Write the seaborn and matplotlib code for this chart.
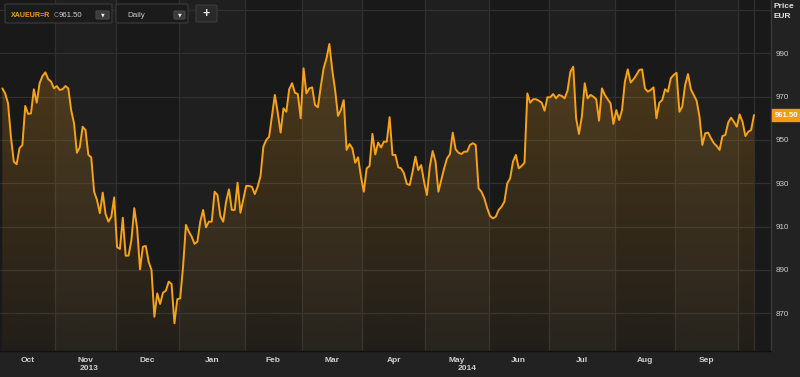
import numpy as np
import pandas as pd
import matplotlib
matplotlib.use("Agg")
import matplotlib.pyplot as plt
import seaborn as sns
from matplotlib.patches import FancyBboxPatch

# ---------------- data ----------------
ric = "XAUEUR=R"
interval = "Daily"
currency = "EUR"
last_price = 961.50
start_date = "2013-10-07"

prices = [
    973.8, 971.5, 966.9, 951.5, 940.0, 938.8, 946.2, 947.7, 965.7, 962.0,
    962.3, 973.4, 967.2, 976.2, 979.5, 981.2, 978.1, 976.9, 973.8, 974.9,
    973.1, 973.4, 974.9, 973.8, 963.8, 957.7, 944.1, 946.6, 956.1, 954.6,
    943.1, 942.0, 926.1, 922.3, 916.2, 925.7, 915.8, 912.3, 914.6, 923.5,
    900.5, 899.7, 914.1, 896.6, 896.6,
    903.8, 918.5, 909.2, 890.3, 900.7, 901.1, 893.8, 890.0, 868.4, 879.2,
    874.3, 879.5, 880.4, 884.6, 883.5, 865.4, 876.5, 876.9, 891.5, 910.8,
    907.7, 905.4, 902.0, 903.1, 912.3, 917.7, 909.7, 912.3, 912.3, 926.1,
    924.6, 914.9, 912.3, 921.5, 927.2, 917.7, 917.7, 930.3, 916.4, 922.6,
    928.8, 928.8, 928.4, 925.0,
    928.4, 933.4, 946.9, 950.0, 951.5, 961.1, 970.8, 962.6, 953.4, 964.6,
    963.0, 973.4, 976.2, 971.8, 971.2, 960.0, 983.1, 971.5, 973.8, 974.3,
    966.1, 965.1, 974.6, 983.1, 987.7, 994.3, 982.3, 973.1, 961.1, 963.8,
    968.4, 945.4, 948.1, 946.2, 939.5, 942.0, 933.1, 926.1, 936.9, 938.0,
    952.8,
    943.3, 948.8, 946.5, 949.2, 949.2, 960.5, 943.1, 943.1, 937.4, 936.9,
    934.6, 929.7, 929.2, 935.4, 942.3, 936.1, 938.4, 930.7, 924.6, 937.7,
    944.9, 940.0, 926.1, 931.5, 936.9, 941.5, 943.4, 953.4, 945.7, 944.1,
    943.5, 944.6, 944.6, 947.7, 948.5, 947.7, 927.7, 926.1, 923.1, 918.5,
    914.9, 913.8, 914.6, 917.7, 919.2,
    921.5, 930.0, 932.3, 940.0, 943.1, 936.9, 938.0, 939.5, 971.5, 967.2,
    968.8, 968.8, 968.1, 967.2, 963.5, 969.7, 969.7, 971.2, 969.2, 970.8,
    970.3, 969.2, 972.7, 981.5, 983.8, 960.0, 952.8, 960.8, 976.2, 969.2,
    970.8, 970.0, 968.8, 958.9, 973.8, 970.8, 968.8, 966.9, 957.4, 963.8,
    959.2, 963.8, 976.9, 982.6, 976.5,
    978.0, 980.0, 982.3, 982.6, 973.8, 972.3, 973.1, 974.3, 960.0, 967.2,
    968.4, 973.4, 972.3, 978.5, 980.0, 981.0, 963.0, 965.4, 975.4, 980.4,
    973.4, 970.8, 968.1, 960.8, 947.7, 953.1, 953.4, 950.8, 948.5, 947.2,
    945.4, 951.8, 952.3, 958.0, 960.3, 958.4, 956.1, 961.8, 958.4, 951.8,
    953.8, 954.6, 961.5,
]

month_labels = ["Oct", "Nov", "Dec", "Jan", "Feb", "Mar", "Apr", "May",
                "Jun", "Jul", "Aug", "Sep"]
year_labels = ["2013", "2014"]
year_label_months = ["Nov", "May"]
y_ticks = [870, 890, 910, 930, 950, 970, 990]
y_grid = [870, 890, 910, 930, 950, 970, 990, 1010]

# ---------------- styling ----------------
W, H = 800, 377
LINE = "#f7a21b"
ORANGE = "#f39c12"
BG = "#222222"
BAND_DARK = "#191919"
BAND_LIGHT = "#1f1f1f"
GRID = "#303030"
TXT = "#cfcfcf"

sns.set_style("dark")
plt.rcParams["font.family"] = ["Liberation Sans", "DejaVu Sans"]

dates = pd.bdate_range(start_date, periods=len(prices))
df = pd.DataFrame({"idx": np.arange(len(prices)), "date": dates, "price": prices})

fig = plt.figure(figsize=(W / 100, H / 100), dpi=100, facecolor=BG)
ax = fig.add_axes([0, 26 / H, 771 / W, 351 / H])

n = len(prices)
px_per = (754 - 2.3) / (n - 1)
xl = -2.3 / px_per
xr = xl + 771 / px_per
ylo, yhi = 852.6, 1014.6

ax.set_facecolor(BAND_DARK)

# month bands and boundaries
df["ym"] = df["date"].dt.to_period("M")
groups = df.groupby("ym")["idx"].agg(["min", "max"])
bounds = []
centers = []
for k, (ym, row) in enumerate(groups.iterrows()):
    a = max(row["min"] - 0.5, xl)
    b = min(row["max"] + 0.5, xr)
    ax.axvspan(a, b, color=BAND_DARK if k % 2 == 0 else BAND_LIGHT, lw=0, zorder=0)
    if row["min"] > 0:
        bounds.append(row["min"] - 0.5)
    centers.append((a + b) / 2)

for v in y_grid:
    ax.axhline(v, color=GRID, lw=0.9, zorder=1)
for b in bounds:
    ax.axvline(b, color=GRID, lw=0.9, zorder=1)
ax.axvline(n - 1, color=GRID, lw=0.9, zorder=1)

# gradient fill under the line
poly = ax.fill_between(df["idx"], df["price"], ylo, facecolor="none", edgecolor="none")
rgb = matplotlib.colors.to_rgb(LINE)
grad = np.zeros((256, 1, 4))
grad[:, 0, 0:3] = rgb
grad[:, 0, 3] = np.linspace(0.24, 0.04, 256)
im = ax.imshow(grad, extent=[xl, xr, ylo, 995], aspect="auto", origin="upper",
               zorder=2, interpolation="bilinear")
im.set_clip_path(poly.get_paths()[0], transform=ax.transData)

sns.lineplot(data=df, x="idx", y="price", color=LINE, lw=1.4, ax=ax, zorder=3)

ax.set_xlim(xl, xr)
ax.set_ylim(ylo, yhi)
ax.set_xlabel("")
ax.set_ylabel("")
ax.grid(False)

# y axis on the right
ax.yaxis.tick_right()
ax.set_yticks(y_ticks)
ax.set_yticklabels([str(v) for v in y_ticks])
ax.tick_params(axis="y", length=0, pad=3, labelsize=5.8, labelcolor=TXT)

# x axis: month labels at centers, boundary ticks
ax.set_xticks(centers[:len(month_labels)])
ax.set_xticklabels(month_labels, fontweight="bold")
ax.tick_params(axis="x", which="major", length=0, pad=4.5, labelsize=6, labelcolor=TXT)
ax.set_xticks(bounds, minor=True)
ax.tick_params(axis="x", which="minor", length=2.5, width=0.8, color="#4a4a4a",
               direction="out")

for lab, mon, off in zip(year_labels, year_label_months, [4, 10]):
    ci = centers[month_labels.index(mon)]
    ax.annotate(lab, xy=(ci, 0), xycoords=("data", "axes fraction"),
                xytext=(off * 0.72, -12.3), textcoords="offset points",
                ha="center", va="center", fontsize=6, fontweight="bold", color=TXT)

for s in ["left", "top"]:
    ax.spines[s].set_visible(False)
ax.spines["right"].set_color("#3a3a3a")
ax.spines["right"].set_linewidth(1.0)
ax.spines["bottom"].set_color("#111111")
ax.spines["bottom"].set_linewidth(1.0)

# last price marker on the axis
ax.annotate(f"{last_price:.2f}", xy=(1, last_price), xycoords=("axes fraction", "data"),
            xytext=(2.6, 0), textcoords="offset points", ha="left", va="center",
            fontsize=5.6, fontweight="bold", color="white",
            bbox=dict(boxstyle="square,pad=0.3", fc=ORANGE, ec=ORANGE), zorder=5,
            annotation_clip=False)

# axis title at the top right
fig.text(774 / W, 1 - 6.5 / H, "Price", fontsize=6, fontweight="bold",
         color="#e0e0e0", ha="left", va="center")
fig.text(774 / W, 1 - 16 / H, currency, fontsize=6, fontweight="bold",
         color="#e0e0e0", ha="left", va="center")


# ---------------- toolbar ----------------
def fx(x):
    return x / W


def fy(y):
    return 1 - y / H


def box(x0, y0, x1, y1, fc, ec, r=2):
    p = FancyBboxPatch((fx(x0), fy(y1)), fx(x1 - x0), (y1 - y0) / H,
                       boxstyle=f"round,pad=0,rounding_size={r / W}",
                       transform=fig.transFigure, fc=fc, ec=ec, lw=0.8, zorder=10)
    fig.patches.append(p)


box(5, 4, 112, 23, "#1b1b1b", "#3c3c3c")
box(96, 11, 109, 19, "#3a3a3a", "#4a4a4a", r=1.5)
fig.text(fx(11), fy(15.5), ric, fontsize=5.1, fontweight="bold", color=ORANGE,
         ha="left", va="center", zorder=11)
fig.text(fx(54), fy(15.5), "C", fontsize=4.8, color="#9a9a9a",
         ha="left", va="center", zorder=11)
fig.text(fx(58.5), fy(15.5), f"{last_price:.2f}", fontsize=5.6, color="#d0d0d0",
         ha="left", va="center", zorder=11)
fig.text(fx(102.5), fy(15.2), "\u25bc", fontsize=3.5, color="#e8e8e8",
         ha="center", va="center", zorder=11, family=["DejaVu Sans"])

box(116, 4, 188, 23, "#1b1b1b", "#3c3c3c")
box(174, 11, 185, 19, "#3a3a3a", "#4a4a4a", r=1.5)
fig.text(fx(127), fy(15.5), interval, fontsize=5.8, color="#c8c8c8",
         ha="left", va="center", zorder=11)
fig.text(fx(179.5), fy(15.2), "\u25bc", fontsize=3.5, color="#e8e8e8",
         ha="center", va="center", zorder=11, family=["DejaVu Sans"])

box(196, 5, 217, 22, "#2a2a2a", "#3c3c3c")
fig.text(fx(206.5), fy(13.8), "+", fontsize=9, fontweight="bold", color="#e8e8e8",
         ha="center", va="center", zorder=11)

fig.savefig("out.png", dpi=100, facecolor=BG)
